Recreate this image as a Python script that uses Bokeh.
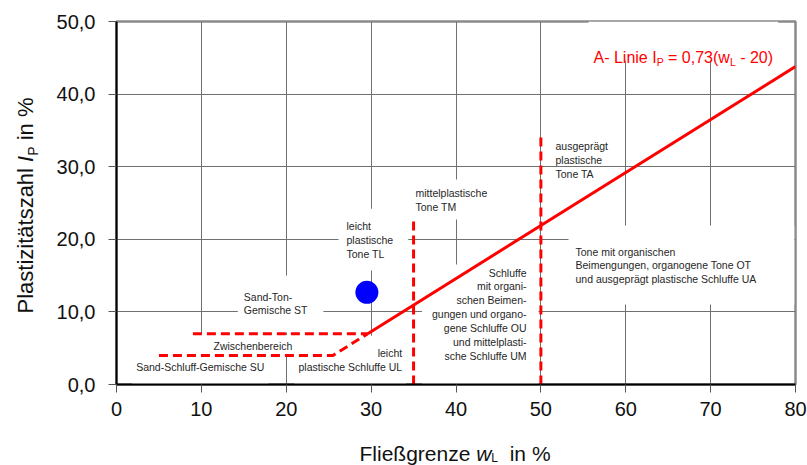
import math

from bokeh.core.properties import value
from bokeh.embed import file_html
from bokeh.layouts import column, row
from bokeh.models import BoxAnnotation, Label, Range1d
from bokeh.plotting import figure
from bokeh.resources import INLINE

# --- axes -------------------------------------------------------------------
x_ticks = [0, 10, 20, 30, 40, 50, 60, 70, 80]
y_ticks = [0, 10, 20, 30, 40, 50]
y_tick_labels = ["0,0", "10,0", "20,0", "30,0", "40,0", "50,0"]

# --- boundaries of the plasticity chart (w_L in %, I_P in %) -----------------
# A-line, solid part
a_line_wl = [29.6, 80.0]
a_line_ip = [7.0, 43.8]
# lower limit of the transition zone, joining the A-line with a dashed kink
lower_limit_wl = [5.0, 25.5, 29.6]
lower_limit_ip = [4.0, 4.0, 7.0]
# upper limit of the transition zone
upper_limit_wl = [9.0, 29.6]
upper_limit_ip = [7.0, 7.0]
# vertical limits between low / medium / high plasticity
split_wl = [35.0, 50.0]
split_ip_top = [22.8, 34.6]

# measured sample
sample_wl = [29.5]
sample_ip = [12.7]

FONT = "Liberation Sans"
RED = "#ff0000"
TXT = "#262626"
TITLE = "#111111"

# Arial / Liberation Sans advance widths (1/1000 em) for composing rich titles
ADV = {" ": 278, "-": 333, "A": 667, "L": 556, "i": 222, "n": 556, "e": 556,
       "I": 278, "P": 667, "=": 584, "0": 556, ",": 278, "7": 556, "3": 556,
       "(": 333, ")": 333, "w": 722, "2": 556, "F": 611, "l": 222, "ß": 611,
       "g": 556, "r": 333, "z": 500, "%": 889, "a": 556, "s": 500, "t": 278,
       "ä": 556, "h": 556}
MID = 0.3465  # distance baseline -> middle of the text box, in em


def text_width(s, px):
    return sum(ADV.get(c, 556) for c in s) * px / 1000.0


def split_lead(s, px):
    """SVG text drops outer blanks, so turn leading ones into an offset."""
    core = s.lstrip(" ")
    return core, text_width(s[:len(s) - len(core)], px)


# layout: narrow title strip on the left, chart, title strip below
LEFT_W, BOTTOM_H = 50, 40
TOTAL_W, TOTAL_H = 807, 465
CHART_W, CHART_H = TOTAL_W - LEFT_W, TOTAL_H - BOTTOM_H
BORDER_L, BORDER_R, BORDER_T, BORDER_B = 66, 12, 21, 41

p = figure(width=CHART_W, height=CHART_H,
           x_range=Range1d(0, 80), y_range=Range1d(0, 50),
           output_backend="svg", toolbar_location=None,
           min_border_left=BORDER_L, min_border_right=BORDER_R,
           min_border_top=BORDER_T, min_border_bottom=BORDER_B)
p.background_fill_color = "white"
p.border_fill_color = "white"
p.outline_line_color = "#8a8a8a"
p.outline_line_width = 2.5

# pixels per data unit inside the frame
KX = (CHART_W - BORDER_L - BORDER_R) / 80.0
KY = (CHART_H - BORDER_T - BORDER_B) / 50.0

p.xaxis.ticker = x_ticks
p.yaxis.ticker = y_ticks
p.yaxis.major_label_overrides = {t: s for t, s in zip(y_ticks, y_tick_labels)}
for ax in (p.xaxis, p.yaxis):
    ax.axis_line_color = "black"
    ax.axis_line_width = 2
    ax.major_tick_line_color = "#555555"
    ax.major_tick_out = 8
    ax.major_tick_in = 0
    ax.minor_tick_line_color = None
    ax.major_label_text_font = FONT
    ax.major_label_text_font_size = "20px"
    ax.major_label_text_color = TITLE
p.xaxis.major_label_standoff = 9
p.yaxis.major_label_standoff = 13

p.xgrid.ticker = x_ticks
p.ygrid.ticker = y_ticks
p.grid.grid_line_color = "#707070"
p.grid.grid_line_width = 1

# --- zone descriptions; white boxes hide the grid behind them ----------------
# (text, x, y of the text block's top corner, alignment, padding l/r/t/b in px)
zones = [
    ("leicht\nplastische\nTone TL", 27.10, 22.69, "left", (8, 15, 11, 11)),
    ("mittelplastische\nTone TM", 35.23, 27.14, "left", (5, 8, 8, 6)),
    ("Sand-Ton-\nGemische ST", 15.0, 12.94, "left", (6, 16, 15, 16)),
    ("Zwischenbereich", 11.43, 6.14, "left", (14, 6, 5, 3)),
    ("Sand-Schluff-Gemische SU", 2.32, 3.2, "left", (4, 4, 5, 12)),
    ("leicht\nplastische Schluffe UL", 33.66, 5.21, "right", (4, 4, 11, 14)),
    ("Schluffe\nmit organi-\nschen Beimen-\ngungen und organo-\ngene Schluffe OU\n"
     "und mittelplasti-\nsche Schluffe UM", 48.31, 16.25, "right", (10, 12, 2, 33)),
    ("Tone mit organischen\nBeimengungen, organogene Tone OT\n"
     "und ausgeprägt plastische Schluffe UA", 54.08, 19.14, "left", (7, 38, 20, 19)),
]
for text, x, y, align, (pl, pr, pt, pb) in zones:
    ax_ = x - pl / KX if align == "left" else x + pr / KX
    p.add_layout(Label(
        x=ax_, y=y + pt / KY, text=text, text_align=align, text_baseline="top",
        text_font=FONT, text_font_size="10.5px", text_color=TXT,
        text_line_height=1.16,
        background_fill_color="white",
        padding=dict(left=pl, right=pr, top=pt, bottom=pb),
        level="underlay"))

p.add_layout(Label(
    x=51.72, y=33.72, text="ausgeprägt\nplastische\nTone TA",
    text_align="left", text_baseline="top", text_font=FONT,
    text_font_size="10.5px", text_color=TXT, text_line_height=1.16,
    level="underlay"))

# --- A-line caption: "A- Linie I_P = 0,73(w_L - 20)" --------------------------
cap_x, cap_y = 56.2, 45.04
cap_parts = [("A- Linie I", 16, 0), ("P", 10.5, 4), (" = 0,73(w", 16, 0),
             ("L", 10.5, 4), (" - 20)", 16, 0)]
cap_w = sum(text_width(s, f) for s, f, _ in cap_parts)
p.add_layout(BoxAnnotation(left=cap_x - 5 / KX, right=cap_x + (cap_w + 5) / KX,
                           bottom=cap_y - 3 / KY, top=50,
                           fill_color="white", fill_alpha=1.0,
                           line_color=None, level="underlay"))
off = 0.0
for s, f, drop in cap_parts:
    core, lead = split_lead(s, f)
    p.add_layout(Label(x=cap_x + (off + lead) / KX, y=cap_y - drop / KY,
                       text=core, text_align="left", text_baseline="alphabetic",
                       text_font=FONT, text_font_size=f"{f}px",
                       text_color=RED))
    off += text_width(s, f)

# --- chart lines ---------------------------------------------------------------
p.line(a_line_wl, a_line_ip, line_color=RED, line_width=3)
p.line(lower_limit_wl, lower_limit_ip, line_color=RED, line_width=3,
       line_dash="9 5")
p.line(upper_limit_wl, upper_limit_ip, line_color=RED, line_width=3,
       line_dash="9 5")
p.segment(x0=split_wl, y0=[0] * len(split_wl), x1=split_wl, y1=split_ip_top,
          line_color=RED, line_width=3, line_dash="9 5")

p.scatter(sample_wl, sample_ip, size=23, fill_color="#0000ff",
          line_color=None)


# --- title strips; data units are canvas pixels (y counted from the strip bottom)
def strip(w, h, bl, br, bt, bb):
    """Blank figure whose frame is pinned by the given borders, so that
    one data unit is one pixel even when the row aligns frames."""
    f = figure(width=w, height=h,
               x_range=Range1d(bl, w - br), y_range=Range1d(bb, h - bt),
               output_backend="svg", toolbar_location=None,
               x_axis_type=None, y_axis_type=None, title=None,
               min_border_left=bl, min_border_right=br,
               min_border_top=bt, min_border_bottom=bb)
    f.grid.visible = False
    f.outline_line_color = None
    f.background_fill_color = "white"
    f.border_fill_color = "white"
    return f


def piece(fig, x, y, s, f, style, angle=0.0):
    fig.text(x=[x], y=[y], text=[s], angle=angle,
             text_align="center", text_baseline="middle",
             text_font=value(FONT), text_font_size=value(f"{f}px"),
             text_font_style=value(style), text_color=TITLE)


# y-axis title, written upwards with italic I and subscript P
left = strip(LEFT_W, CHART_H, 0, 0, BORDER_T, BORDER_B)
yt = [("Plastizitätszahl ", 22, "normal", 0), ("I", 22, "italic", 0),
      ("P", 14, "normal", 4), (" in %", 22, "normal", 0)]
y0 = CHART_H - 313.0   # lower end of the title
base_x = 33.0          # baseline of the rotated title
off = 0.0
for s, f, style, drop in yt:
    core, lead = split_lead(s, f)
    core = core.rstrip(" ")
    cy = y0 + off + lead + text_width(core, f) / 2
    cx = base_x + drop - MID * f
    piece(left, cx, cy, core, f, style, angle=math.pi / 2)
    off += text_width(s, f)

# x-axis title with italic w and subscript L
bottom = strip(TOTAL_W, BOTTOM_H, LEFT_W + BORDER_L, BORDER_R, 0, 0)
xt = [("Fließgrenze ", 21, "normal", 0), ("w", 21, "italic", 0),
      ("L", 12, "normal", 2), ("  in %", 21, "normal", 0)]
x0 = 359.0
base_y = TOTAL_H - 460.0
off = 0.0
for s, f, style, drop in xt:
    core, lead = split_lead(s, f)
    core = core.rstrip(" ")
    cx = x0 + off + lead + text_width(core, f) / 2
    cy = base_y - drop + MID * f
    piece(bottom, cx, cy, core, f, style)
    off += text_width(s, f)

layout = column(row(left, p), bottom)
open("out.html", "w").write(file_html(layout, INLINE))
